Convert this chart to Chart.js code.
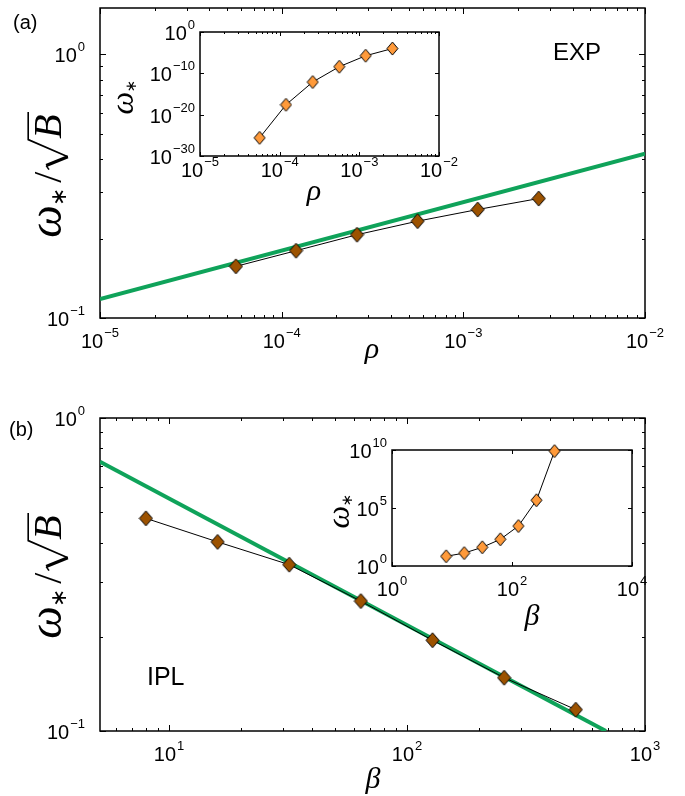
<!DOCTYPE html>
<html>
<head>
<meta charset="utf-8">
<script src="https://cdn.jsdelivr.net/npm/chart.js@4.4.1/dist/chart.umd.min.js"></script>
<style>
  html, body { margin: 0; padding: 0; background: #fff; }
  #page { position: relative; width: 685px; height: 796px; overflow: hidden; }
  canvas { position: absolute; }
</style>
</head>
<body>
<div id="page">
  <canvas id="mainA" width="685" height="400" style="left:0;top:0"></canvas>
  <canvas id="insetA" width="400" height="220" style="left:100px;top:0"></canvas>
  <canvas id="mainB" width="685" height="396" style="left:0;top:400px"></canvas>
  <canvas id="insetB" width="385" height="220" style="left:300px;top:420px"></canvas>
</div>
<script>
const SANS = "'Liberation Sans', Arial, sans-serif";
const SERIF = "'Liberation Serif', 'Times New Roman', serif";
const BROWN = "#9c5200";
const ORANGE = "#ff9a3a";
const GREEN = "#0fa35a";

// panel (a): EXP
const rhoValues = [5.6e-5, 1.2e-4, 2.6e-4, 5.6e-4, 1.2e-3, 2.6e-3];
const expScaledOmega = [0.157, 0.180, 0.207, 0.233, 0.258, 0.284];
const expOmega = [2.5e-26, 2.5e-18, 8e-13, 4e-9, 1.8e-6, 1e-4];
const expFitRho = [1e-5, 1e-2];
const expFitValues = [0.118, 0.42];

// panel (b): IPL
const betaValues = [8, 16, 32, 64, 128, 256, 512];
const iplScaledOmega = [0.478, 0.402, 0.340, 0.260, 0.195, 0.148, 0.117];
const iplOmega = [6.9, 13, 41, 200, 2800, 4.7e5, 8e9];
const iplFitBeta = [5.13, 685];
const iplFitValues = [0.725, 0.1];

// tick labels (powers of ten)
const mainAXExps = [-5, -4, -3, -2];
const mainAYExps = [-1, 0];
const insetAXExps = [-5, -4, -3, -2];
const insetAYExps = [-30, -20, -10, 0];
const mainBXExps = [1, 2, 3];
const mainBYExps = [-1, 0];
const insetBXExps = [0, 2, 4];
const insetBYExps = [0, 5, 10];

function pts(xs, ys) {
    return xs.map((x, i) => ({ x, y: ys[i] }));
}

function diamond(w, h, fill) {
    const c = document.createElement("canvas");
    c.width = w + 2;
    c.height = h + 2;
    const g = c.getContext("2d");
    const cx = c.width / 2, cy = c.height / 2;
    g.beginPath();
    g.moveTo(cx, cy - h / 2);
    g.lineTo(cx + w / 2, cy);
    g.lineTo(cx, cy + h / 2);
    g.lineTo(cx - w / 2, cy);
    g.closePath();
    g.fillStyle = fill;
    g.fill();
    g.lineWidth = 1;
    g.strokeStyle = "#000";
    g.stroke();
    return c;
}

function logTicks(min, max, exps, withMinor) {
    const out = exps.map((e) => ({ v: Math.pow(10, e), major: true }));
    if (withMinor) {
        for (let e = Math.floor(Math.log10(min)); e <= Math.ceil(Math.log10(max)); e++) {
            for (let m = 2; m <= 9; m++) {
                const v = m * Math.pow(10, e);
                if (v > min * 1.001 && v < max / 1.001) {
                    out.push({ v, major: false });
                }
            }
        }
    }
    return out;
}

function drawPower(ctx, exp, x, y, align, ax) {
    const base = "10";
    const sup = exp < 0 ? "\u2212" + (-exp) : String(exp);
    ctx.font = ax.labelSize + "px " + SANS;
    const wb = ctx.measureText(base).width;
    ctx.font = ax.supSize + "px " + SANS;
    const ws = ctx.measureText(sup).width;
    const total = wb + 1 + ws;
    const left = align === "center" ? x - total / 2 : x - total;
    ctx.textAlign = "left";
    ctx.textBaseline = "alphabetic";
    ctx.fillStyle = "#000";
    ctx.font = ax.labelSize + "px " + SANS;
    ctx.fillText(base, left, y);
    ctx.font = ax.supSize + "px " + SANS;
    ctx.fillText(sup, left + wb + 1, y - ax.supRaise);
}

// rotated omega_* (optionally over sqrt(B)), read bottom to top
function drawOmegaLabel(ctx, bx, cy, S, withSqrt) {
    const omegaFont = "italic " + Math.round(S * 1.15) + "px " + SERIF;
    const italic = "italic " + S + "px " + SERIF;
    const upright = S + "px " + SERIF;
    const subFont = Math.round(S * 0.55) + "px 'DejaVu Sans', sans-serif";
    ctx.font = omegaFont;
    const wOm = ctx.measureText("\u03c9").width;
    ctx.font = subFont;
    const wSt = ctx.measureText("\u2217").width;
    let total = wOm + wSt;
    let wSl = 0, wRad = 0.75 * S, wB = 0;
    if (withSqrt) {
        ctx.font = upright;
        wSl = ctx.measureText("/").width;
        ctx.font = italic;
        wB = ctx.measureText("B").width;
        total += 0.12 * S + wSl + 0.05 * S + wRad + wB + 0.05 * S;
    }
    ctx.save();
    ctx.translate(bx, cy);
    ctx.rotate(-Math.PI / 2);
    ctx.fillStyle = "#000";
    ctx.textAlign = "left";
    ctx.textBaseline = "alphabetic";
    let x = -total / 2;
    ctx.font = omegaFont;
    ctx.fillText("\u03c9", x, 0);
    x += wOm - 0.02 * S;
    ctx.font = subFont;
    ctx.fillText("\u2217", x, 0.12 * S);
    x += wSt;
    if (withSqrt) {
        x += 0.12 * S;
        ctx.font = upright;
        ctx.fillText("/", x, 0);
        x += wSl + 0.05 * S;
        const top = -0.82 * S;
        ctx.strokeStyle = "#000";
        ctx.lineJoin = "miter";
        ctx.lineWidth = 0.04 * S;
        ctx.beginPath();
        ctx.moveTo(x, -0.3 * S);
        ctx.lineTo(x + 0.1 * S, -0.37 * S);
        ctx.stroke();
        ctx.lineWidth = 0.08 * S;
        ctx.beginPath();
        ctx.moveTo(x + 0.1 * S, -0.37 * S);
        ctx.lineTo(x + 0.32 * S, 0.17 * S);
        ctx.stroke();
        ctx.lineWidth = 0.04 * S;
        ctx.beginPath();
        ctx.moveTo(x + 0.32 * S, 0.17 * S);
        ctx.lineTo(x + wRad, top);
        ctx.lineTo(x + wRad + wB + 0.08 * S, top);
        ctx.stroke();
        x += wRad + 0.02 * S;
        ctx.font = italic;
        ctx.fillText("B", x, 0);
    }
    ctx.restore();
}

function axesPlugin(ax) {
    return {
        id: "axesFrame",
        beforeDatasetsDraw(chart) {
            const { ctx, chartArea: a, scales } = chart;
            const xs = scales.x, ys = scales.y;
            const [ox, oy] = ax.origin;
            ctx.save();
            ctx.fillStyle = "#fff";
            ctx.fillRect(a.left, a.top, a.right - a.left, a.bottom - a.top);

            ctx.strokeStyle = "#000";
            ctx.lineWidth = 1;
            ctx.beginPath();
            logTicks(ax.xRange[0], ax.xRange[1], ax.xExps, ax.xMinor).forEach((t) => {
                const px = Math.round(xs.getPixelForValue(t.v)) + 0.5;
                const len = t.major ? ax.majorLen : ax.minorLen;
                ctx.moveTo(px, a.bottom);
                ctx.lineTo(px, a.bottom - len);
                ctx.moveTo(px, a.top);
                ctx.lineTo(px, a.top + len);
            });
            logTicks(ax.yRange[0], ax.yRange[1], ax.yExps, ax.yMinor).forEach((t) => {
                const py = Math.round(ys.getPixelForValue(t.v)) + 0.5;
                const len = t.major ? ax.majorLen : ax.minorLen;
                ctx.moveTo(a.left, py);
                ctx.lineTo(a.left + len, py);
                ctx.moveTo(a.right, py);
                ctx.lineTo(a.right - len, py);
            });
            ctx.stroke();
            ctx.lineWidth = 1.5;
            ctx.strokeRect(a.left, a.top, a.right - a.left, a.bottom - a.top);

            ax.xExps.forEach((e) => {
                drawPower(ctx, e, xs.getPixelForValue(Math.pow(10, e)), a.bottom + ax.xLabelDy, "center", ax);
            });
            ax.yExps.forEach((e) => {
                drawPower(ctx, e, a.left - ax.yLabelGap, ys.getPixelForValue(Math.pow(10, e)) + 8, "right", ax);
            });

            // axis titles
            const yt = ax.yTitle;
            drawOmegaLabel(ctx, yt.bx - ox, yt.cy - oy, yt.size, yt.sqrt);
            const xt = ax.xTitle;
            ctx.font = "italic " + xt.size + "px " + SERIF;
            ctx.textAlign = "center";
            ctx.fillStyle = "#000";
            ctx.fillText(xt.text, xt.x - ox, xt.y - oy);

            (ax.notes || []).forEach((n) => {
                ctx.font = n.size + "px " + SANS;
                ctx.textAlign = "left";
                ctx.fillText(n.text, n.x - ox, n.y - oy);
            });
            ctx.restore();
        },
    };
}

function makeChart(id, cfg) {
    return new Chart(document.getElementById(id), {
        type: "line",
        data: { datasets: cfg.datasets },
        options: {
            responsive: false,
            animation: false,
            devicePixelRatio: 1,
            events: [],
            layout: { padding: cfg.padding },
            plugins: { legend: { display: false }, tooltip: { enabled: false } },
            scales: {
                x: { type: "logarithmic", min: cfg.axes.xRange[0], max: cfg.axes.xRange[1], display: false },
                y: { type: "logarithmic", min: cfg.axes.yRange[0], max: cfg.axes.yRange[1], display: false },
            },
        },
        plugins: [axesPlugin(cfg.axes)],
    });
}

const brownDiamond = diamond(13, 15, BROWN);
const orangeDiamond = diamond(11, 13, ORANGE);

function markerSet(data, marker) {
    return {
        data,
        borderColor: "#000",
        borderWidth: 1,
        pointStyle: marker,
        pointRadius: 7,
        clip: false,
    };
}

function fitSet(data) {
    return {
        data,
        borderColor: GREEN,
        borderWidth: 4,
        pointRadius: 0,
        clip: 0,
    };
}

const mainStyle = { labelSize: 20, supSize: 13, supRaise: 11, majorLen: 6, minorLen: 3 };
const insetStyle = { labelSize: 20, supSize: 13, supRaise: 11, majorLen: 4, minorLen: 2 };

makeChart("mainA", {
    padding: { left: 100, right: 40, top: 4, bottom: 82 },
    datasets: [markerSet(pts(rhoValues, expScaledOmega), brownDiamond), fitSet(pts(expFitRho, expFitValues))],
    axes: {
        ...mainStyle,
        origin: [0, 0],
        xRange: [1e-5, 1e-2], yRange: [0.1, 1.5],
        xExps: mainAXExps, yExps: mainAYExps, xMinor: true, yMinor: true,
        xLabelDy: 30, yLabelGap: 15,
        yTitle: { bx: 61, cy: 175, size: 40, sqrt: true },
        xTitle: { text: "\u03c1", x: 372, y: 358, size: 30 },
        notes: [
            { text: "(a)", x: 13, y: 29, size: 20 },
            { text: "EXP", x: 553, y: 60, size: 24 },
        ],
    },
});

makeChart("insetA", {
    padding: { left: 100, right: 61, top: 32, bottom: 64 },
    datasets: [markerSet(pts(rhoValues, expOmega), orangeDiamond)],
    axes: {
        ...insetStyle,
        origin: [100, 0],
        xRange: [1e-5, 1e-2], yRange: [1e-30, 1],
        xExps: insetAXExps, yExps: insetAYExps, xMinor: true, yMinor: false,
        xLabelDy: 21, yLabelGap: 5,
        yTitle: { bx: 133, cy: 97, size: 28, sqrt: false },
        xTitle: { text: "\u03c1", x: 314, y: 200, size: 30 },
    },
});

makeChart("mainB", {
    padding: { left: 100, right: 40, top: 18, bottom: 65 },
    datasets: [markerSet(pts(betaValues, iplScaledOmega), brownDiamond), fitSet(pts(iplFitBeta, iplFitValues))],
    axes: {
        ...mainStyle,
        origin: [0, 400],
        xRange: [5.13, 1000], yRange: [0.1, 1],
        xExps: mainBXExps, yExps: mainBYExps, xMinor: true, yMinor: true,
        xLabelDy: 30, yLabelGap: 15,
        yTitle: { bx: 61, cy: 576, size: 40, sqrt: true },
        xTitle: { text: "\u03b2", x: 373, y: 788, size: 30 },
        notes: [
            { text: "(b)", x: 9, y: 436, size: 20 },
            { text: "IPL", x: 147, y: 685, size: 25 },
        ],
    },
});

makeChart("insetB", {
    padding: { left: 92, right: 53, top: 30, bottom: 74 },
    datasets: [markerSet(pts(betaValues, iplOmega), orangeDiamond)],
    axes: {
        ...insetStyle,
        origin: [300, 420],
        xRange: [1, 1e4], yRange: [1, 1e10],
        xExps: insetBXExps, yExps: insetBYExps, xMinor: false, yMinor: false,
        xLabelDy: 30, yLabelGap: 5,
        yTitle: { bx: 349, cy: 511, size: 28, sqrt: false },
        xTitle: { text: "\u03b2", x: 532, y: 625, size: 30 },
    },
});
</script>
</body>
</html>
